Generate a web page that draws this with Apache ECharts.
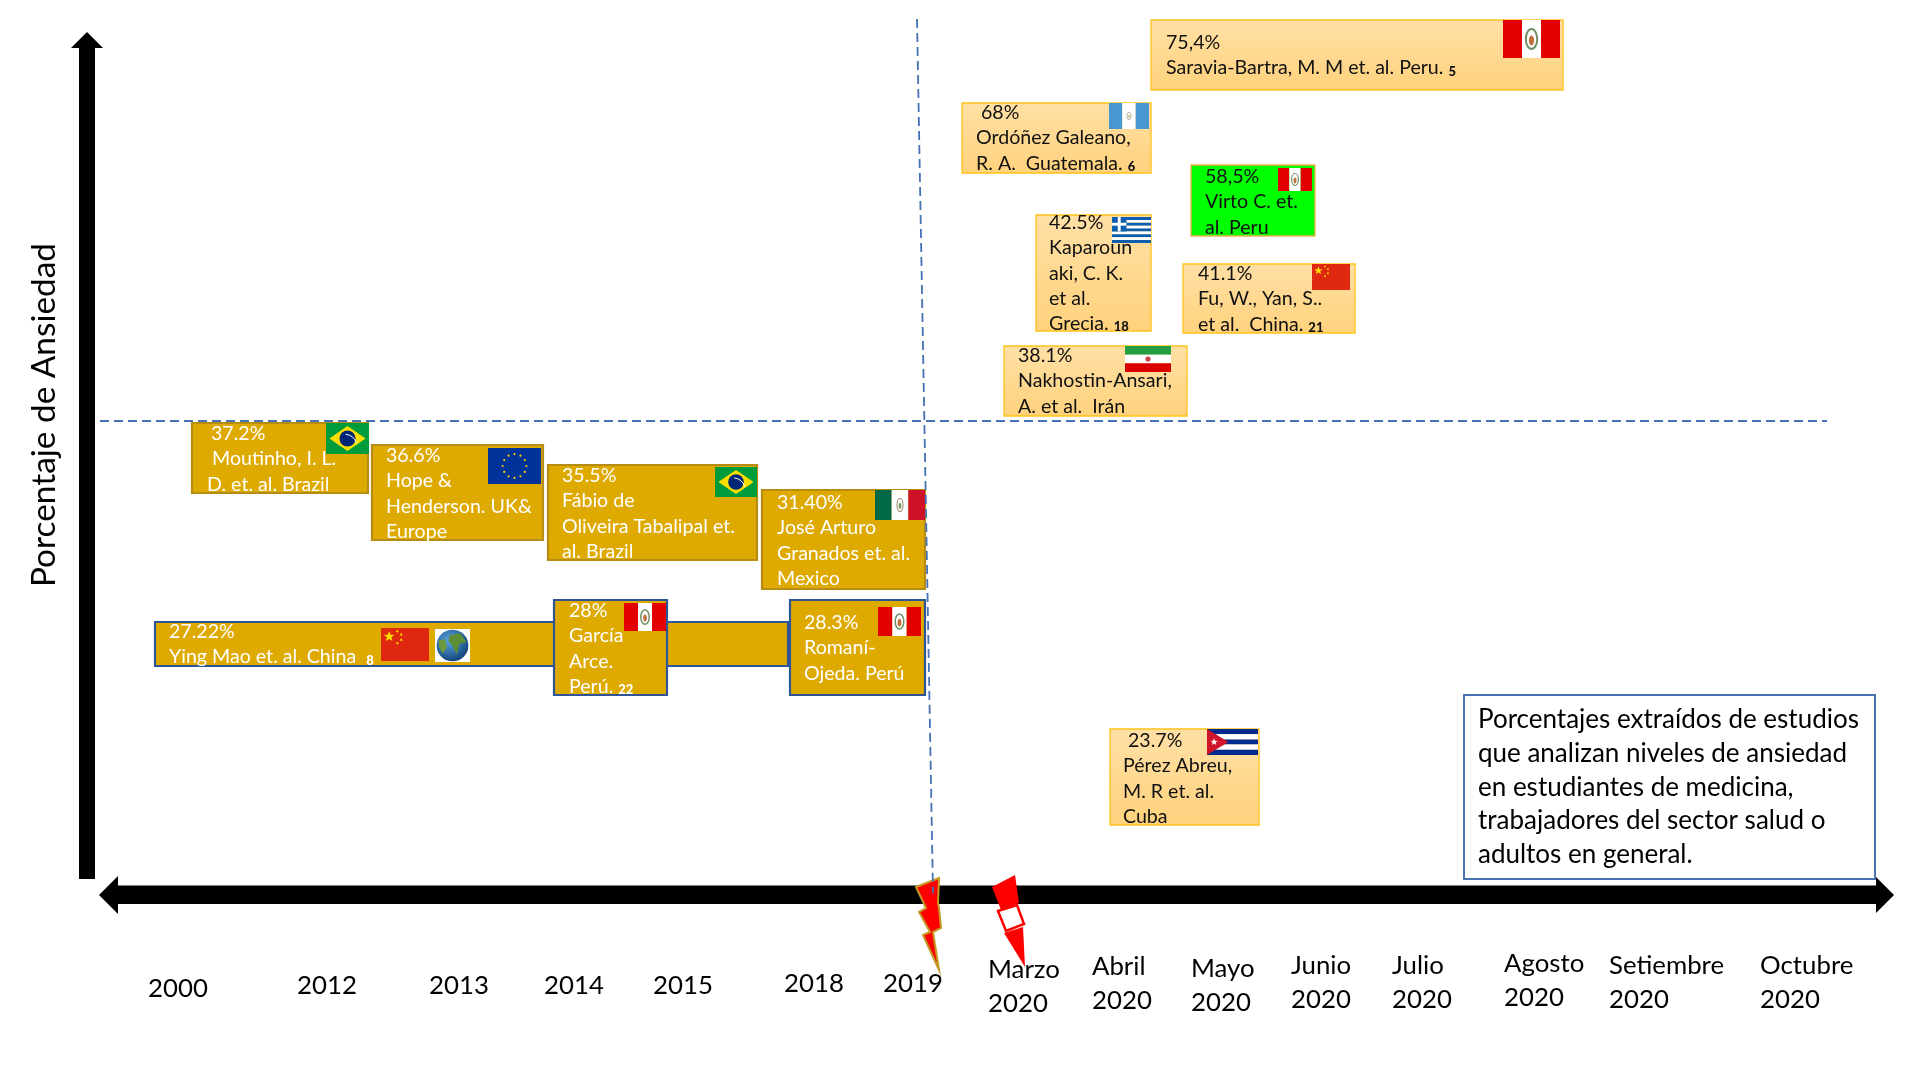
<!DOCTYPE html>
<html><head><meta charset="utf-8">
<style>html,body{margin:0;padding:0;background:#fff}#c{width:1920px;height:1080px}</style>
<script src="https://cdn.jsdelivr.net/npm/echarts@6/dist/echarts.min.js"></script>
</head><body><div id="c"></div>
<script>
// ---------- chart content ----------
var yAxisTitle = 'Porcentaje de Ansiedad';
var timeLabels = [['2000'],['2012'],['2013'],['2014'],['2015'],['2018'],['2019'],['Marzo','2020'],['Abril','2020'],['Mayo','2020'],['Junio','2020'],['Julio','2020'],['Agosto','2020'],['Setiembre','2020'],['Octubre','2020']];
var studyValues = [27.22,37.2,36.6,35.5,31.4,28,28.3,75.4,68,58.5,42.5,41.1,38.1,23.7];
var studyPercentText = ['27.22%','37.2%','36.6%','35.5%','31.40%','28%','28.3%','75,4%','68%','58,5%','42.5%','41.1%','38.1%','23.7%'];
var studyAuthors = [
 ['Ying Mao et. al. China  {r|8}'],
 ['Moutinho, I. L.','D. et. al. Brazil'],
 ['Hope &','Henderson. UK&','Europe'],
 ['Fábio de','Oliveira Tabalipal et.','al. Brazil'],
 ['José Arturo','Granados et. al.','Mexico'],
 ['García','Arce.','Perú. {r|22}'],
 ['Romaní-','Ojeda. Perú'],
 ['Saravia-Bartra, M. M et. al. Peru. {r|5}'],
 ['Ordóñez Galeano,','R. A.  Guatemala. {r|6}'],
 ['Virto C. et.','al. Peru'],
 ['Kaparoun','aki, C. K.','et al.','Grecia. {r|18}'],
 ['Fu, W., Yan, S..','et al.  China. {r|21}'],
 ['Nakhostin-Ansari,','A. et al.  Irán'],
 ['Pérez Abreu,','M. R et. al.','Cuba']
];
var studyFlags = [['china','globe'],['brazil'],['eu'],['brazil'],['mexico'],['peru'],['peru'],['peru'],['guatemala'],['peru'],['greece'],['china'],['iran'],['cuba']];
var noteLines = ['Porcentajes extraídos de estudios','que analizan niveles de ansiedad','en estudiantes de medicina,','trabajadores del sector salud o','adultos en general.'];

// ---------- layout, in sheet units of the hidden axes ----------
var boxLayout = [ // x0,y0,x1,y1, style, pctX, textX, firstLineY
 [155,622,788,666,'goldBlue',169,169,632],
 [192,423,368,493,'gold',211,212,434],
 [372,445,543,540,'gold',386,386,456],
 [548,465,757,560,'gold',562,562,476],
 [762,490,925,589,'gold',777,777,503],
 [554,600,667,695,'goldBlue',569,569,611],
 [790,600,925,695,'goldBlue',804,804,623],
 [1151,20,1563,90,'light',1166,1166,43],
 [962,103,1151,173,'light',981,976,113],
 [1191,165,1315,236,'green',1205,1205,177],
 [1036,215,1151,331,'light',1049,1049,223],
 [1183,264,1355,333,'light',1198,1198,274],
 [1004,346,1187,416,'light',1018,1018,356],
 [1110,729,1259,825,'light',1128,1123,741]
];
var line2Shift = {1:-5};
var flagLayout = [
 [[381,628,429,661],[435,629,470,662]],
 [[326,423,369,454]],
 [[488,448,541,484]],
 [[715,467,757,497]],
 [[875,490,925,520]],
 [[624,603,666,631]],
 [[878,607,921,636]],
 [[1503,20,1560,58]],
 [[1109,103,1149,129]],
 [[1278,168,1312,191]],
 [[1112,217,1151,243]],
 [[1312,264,1350,290]],
 [[1125,346,1171,372]],
 [[1207,729,1258,755]]
];
var labelLayout = [[178,989],[327,986],[459,986],[574,986],[683,986],[814,984],[913,984],[988,970],[1092,967],[1191,969],[1291,966],[1392,966],[1504,964],[1609,966],[1760,966]];
var labelLineStep = 34;
var labelAnchor = ['center','center','center','center','center','center','center','left','left','left','left','left','left','left','left'];
var guideH = [[100,421],[1827,421]];
var guideV = [[917,19],[933,893]];
var arrowShapes = [
 {fill:'#000',pts:[[79,879],[79,48],[71,48],[87,32],[103,48],[95,48],[95,879]]},
 {fill:'#000',pts:[[99,895],[118,876],[118,885.5],[1876,885.5],[1876,877],[1894,895],[1876,913],[1876,904],[118,904],[118,914]]}
];
var boltLayout = [[916,887],[939,878],[938,903],[939,908],[941,928],[933,932],[939,970],[923,935],[930,932],[919,912],[926,908]];
var flashTop = [[992,887],[1015,875],[1019,903],[1001,910]];
var flashBox = [[998,911],[1017,905],[1024,924],[1006,931]];
var flashTip = [[1004,933],[1023,927],[1025,967]];
var noteBox = [1464,695,1875,879];
var noteTextX = 1478, noteFirstY = 720, noteStep = 33.7;
var lineStep = 25.1;

// ---------- styles ----------
var FONT = 'Lato';
var light = {type:'linear',x:0,y:0,x2:0,y2:1,colorStops:[{offset:0,color:'#FFE0A6'},{offset:1,color:'#FFD27C'}]};
var boxStyles = {
 gold:{fill:'#DFAA00',stroke:'#B68D12',lw:2.2,text:'#fff'},
 goldBlue:{fill:'#DFAA00',stroke:'#2F5597',lw:2.2,text:'#fff'},
 light:{fill:light,stroke:'#FFC21A',lw:1.3,text:'#111'},
 green:{fill:'#00FF00',stroke:'#F2B14E',lw:1.3,text:'#111'}
};

function poly(api,pts,fill,stroke,lw){
 return {type:'polygon',shape:{points:pts.map(function(p){return api.coord(p);})},style:{fill:fill,stroke:stroke||null,lineWidth:lw||0}};
}
function rectPx(x,y,w,h,fill){return {type:'rect',shape:{x:x,y:y,width:w,height:h},style:{fill:fill}};}
function circ(cx,cy,r,fill){return {type:'circle',shape:{cx:cx,cy:cy,r:r},style:{fill:fill}};}
function star(cx,cy,r,fill,rot){
 var pts=[];for(var i=0;i<10;i++){var a=(rot||0)-Math.PI/2+i*Math.PI/5,q=i%2?r*0.42:r;pts.push([cx+q*Math.cos(a),cy+q*Math.sin(a)]);}
 return {type:'polygon',shape:{points:pts},style:{fill:fill}};
}
function emblem(cx,cy,w,h,c1,c2){
 return [{type:'ellipse',shape:{cx:cx,cy:cy,rx:w,ry:h},style:{fill:'rgba(255,255,255,0)',stroke:c1,lineWidth:Math.max(1,w*0.35)}},{type:'ellipse',shape:{cx:cx,cy:cy+h*0.15,rx:w*0.45,ry:h*0.5},style:{fill:c2}}];
}
function drawFlag(kind,x,y,w,h){
 var o=[];
 if(kind==='peru'){
  o.push(rectPx(x,y,w/3,h,'#E30000'),rectPx(x+w/3,y,w/3,h,'#fff'),rectPx(x+2*w/3,y,w/3,h,'#E30000'));
  o=o.concat(emblem(x+w/2,y+h/2,w*0.1,h*0.26,'#6F8F66','#C0703A'));
 }else if(kind==='brazil'){
  o.push(rectPx(x,y,w,h,'#009B3A'));
  o.push({type:'polygon',shape:{points:[[x+w*0.08,y+h/2],[x+w/2,y+h*0.1],[x+w*0.92,y+h/2],[x+w/2,y+h*0.9]]},style:{fill:'#FEDF00'}});
  o.push(circ(x+w/2,y+h/2,h*0.26,'#002776'));
  o.push({type:'arc',shape:{cx:x+w*0.42,cy:y+h*0.78,r:h*0.42,startAngle:-1.45,endAngle:-0.3},style:{stroke:'#fff',lineWidth:1,fill:null}});
 }else if(kind==='eu'){
  o.push(rectPx(x,y,w,h,'#00339A'));
  for(var i=0;i<12;i++){var a=i*Math.PI/6;o.push(circ(x+w/2+h*0.33*Math.cos(a),y+h/2+h*0.33*Math.sin(a),1.1,'#FFCC00'));}
 }else if(kind==='mexico'){
  o.push(rectPx(x,y,w/3,h,'#006847'),rectPx(x+w/3,y,w/3,h,'#fff'),rectPx(x+2*w/3,y,w/3,h,'#CE1126'));
  o=o.concat(emblem(x+w/2,y+h/2,w*0.06,h*0.22,'#A08560','#6F9A62'));
 }else if(kind==='china'){
  o.push(rectPx(x,y,w,h,'#DE2910'));
  o.push(star(x+w*0.17,y+h*0.26,h*0.17,'#FFDE00'));
  [[0.34,0.1],[0.42,0.2],[0.42,0.36],[0.34,0.46]].forEach(function(p){o.push(star(x+w*p[0],y+h*p[1],h*0.055,'#FFDE00',0.5));});
 }else if(kind==='globe'){
  o.push(rectPx(x,y,w,h,'#fff'));
  o.push({type:'circle',shape:{cx:x+w/2,cy:y+h/2,r:Math.min(w,h)*0.48},style:{fill:{type:'radial',x:0.4,y:0.35,r:0.7,colorStops:[{offset:0,color:'#5BA6DE'},{offset:1,color:'#0F3F78'}]}}});
  o.push({type:'polygon',shape:{points:[[x+w*0.42,y+h*0.2],[x+w*0.72,y+h*0.12],[x+w*0.9,y+h*0.4],[x+w*0.7,y+h*0.45],[x+w*0.62,y+h*0.78],[x+w*0.5,y+h*0.5],[x+w*0.38,y+h*0.36]]},style:{fill:'#5C8F35'}});
  o.push({type:'polygon',shape:{points:[[x+w*0.1,y+h*0.35],[x+w*0.28,y+h*0.3],[x+w*0.34,y+h*0.55],[x+w*0.22,y+h*0.75],[x+w*0.12,y+h*0.55]]},style:{fill:'#6D9A3F'}});
 }else if(kind==='guatemala'){
  o.push(rectPx(x,y,w/3,h,'#4997D0'),rectPx(x+w/3,y,w/3,h,'#fff'),rectPx(x+2*w/3,y,w/3,h,'#4997D0'));
  o=o.concat(emblem(x+w/2,y+h/2,w*0.05,h*0.15,'#A8B09A','#C9C08A'));
 }else if(kind==='greece'){
  for(var s=0;s<9;s++)o.push(rectPx(x,y+s*h/9,w,h/9,s%2?'#fff':'#0D5EAF'));
  o.push(rectPx(x,y,w*0.37,h*5/9,'#0D5EAF'),rectPx(x+w*0.148,y,w*0.074,h*5/9,'#fff'),rectPx(x,y+h*2/9,w*0.37,h/9,'#fff'));
 }else if(kind==='iran'){
  o.push(rectPx(x,y,w,h/3,'#239F40'),rectPx(x,y+h/3,w,h/3,'#fff'),rectPx(x,y+2*h/3,w,h/3,'#DA0000'));
  o.push(circ(x+w/2,y+h/2,h*0.1,'#C9434B'));
 }else if(kind==='cuba'){
  for(var t=0;t<5;t++)o.push(rectPx(x,y+t*h/5,w,h/5,t%2?'#fff':'#002A8F'));
  o.push({type:'polygon',shape:{points:[[x,y],[x+w*0.42,y+h/2],[x,y+h]]},style:{fill:'#CF142B'}});
  o.push(star(x+w*0.14,y+h/2,h*0.14,'#fff'));
 }
 return o;
}
function txt(x,y,s,fill,size,align,extra){
 var st={x:x,y:y,text:s,fill:fill,fontFamily:FONT,fontSize:size,align:align||'left',verticalAlign:'middle'};
 if(extra)st.rich=extra;
 return {type:'text',style:st};
}
var refRich={r:{fontFamily:FONT,fontSize:13,fontWeight:900,verticalAlign:'bottom',padding:[6,0,0,0]}};
var BOX_FONT=19.6;

function renderStudy(params,api){
 var i=params.dataIndex,L=boxLayout[i],st=boxStyles[L[4]];
 var a=api.coord([L[0],L[1]]),b=api.coord([L[2],L[3]]);
 var ch=[{type:'rect',shape:{x:a[0],y:a[1],width:b[0]-a[0],height:b[1]-a[1]},style:{fill:st.fill,stroke:st.stroke,lineWidth:st.lw}}];
 flagLayout[i].forEach(function(f,k){
  var p=api.coord([f[0],f[1]]),q=api.coord([f[2],f[3]]);
  ch=ch.concat(drawFlag(studyFlags[i][k],p[0],p[1],q[0]-p[0],q[1]-p[1]));
 });
 var y0=api.coord([0,L[7]])[1], step=lineStep;
 ch.push(txt(api.coord([L[5],0])[0],y0,studyPercentText[i],st.text,BOX_FONT));
 studyAuthors[i].forEach(function(s,k){
  var sx=L[6]+(k===1&&line2Shift[i]?line2Shift[i]:0);
  ch.push(txt(api.coord([sx,0])[0],y0+(k+1)*step,s,st.text,BOX_FONT,'left',refRich));
 });
 return {type:'group',children:ch};
}
function renderTimeLabel(params,api){
 var i=params.dataIndex,P=labelLayout[i];
 var p=api.coord(P),ch=[];
 timeLabels[i].forEach(function(s,k){ch.push(txt(p[0],p[1]+k*labelLineStep,s,'#000',25.8,labelAnchor[i]));});
 return {type:'group',children:ch};
}
function renderDecor(params,api){
 var ch=[];
 arrowShapes.forEach(function(s){ch.push(poly(api,s.pts,s.fill));});
 ch.push(poly(api,boltLayout,'#FF0000','#C49A22',2));
 ch.push(poly(api,flashTop,'#FF0000'),poly(api,flashBox,'#fff','#FF0000',2.5),poly(api,flashTip,'#FF0000'));
 return {type:'group',children:ch};
}
function renderNote(params,api){
 var a=api.coord([noteBox[0],noteBox[1]]),b=api.coord([noteBox[2],noteBox[3]]);
 var ch=[{type:'rect',shape:{x:a[0],y:a[1],width:b[0]-a[0],height:b[1]-a[1]},style:{fill:'#fff',stroke:'#4A74B0',lineWidth:2}}];
 noteLines.forEach(function(s,k){ch.push(txt(api.coord([noteTextX,0])[0],api.coord([0,noteFirstY])[1]+k*noteStep,s,'#000',26));});
 return {type:'group',children:ch};
}
function renderTitle(params,api){
 var p=api.coord([44,415]);
 return {type:'text',x:p[0],y:p[1],rotation:Math.PI/2,style:{text:yAxisTitle,fill:'#000',fontFamily:FONT,fontSize:33.4,align:'center',verticalAlign:'middle'}};
}
var dash={color:'#4472B4',width:1.8,type:[9,5]};
var chart=echarts.init(document.getElementById('c'),null,{renderer:'canvas'});
chart.setOption({
 animation:false,backgroundColor:'#fff',
 grid:{left:0,right:0,top:0,bottom:0},
 xAxis:{type:'value',min:0,max:1920,show:false},
 yAxis:{type:'value',min:0,max:1080,inverse:true,show:false},
 series:[
  {type:'line',z:2,symbol:'none',data:guideH,lineStyle:dash,silent:true},
  {type:'custom',z:3,clip:false,silent:true,renderItem:renderStudy,data:studyValues.map(function(v,i){return [i,v];})},
  {type:'custom',z:4,clip:false,silent:true,renderItem:renderDecor,data:[[0,0]]},
  {type:'line',z:5,symbol:'none',data:guideV,lineStyle:dash,silent:true},
  {type:'custom',z:6,clip:false,silent:true,renderItem:renderTimeLabel,data:timeLabels.map(function(v,i){return [i,0];})},
  {type:'custom',z:6,clip:false,silent:true,renderItem:renderNote,data:[[0,0]]},
  {type:'custom',z:6,clip:false,silent:true,renderItem:renderTitle,data:[[0,0]]}
 ]
});
</script></body></html>
